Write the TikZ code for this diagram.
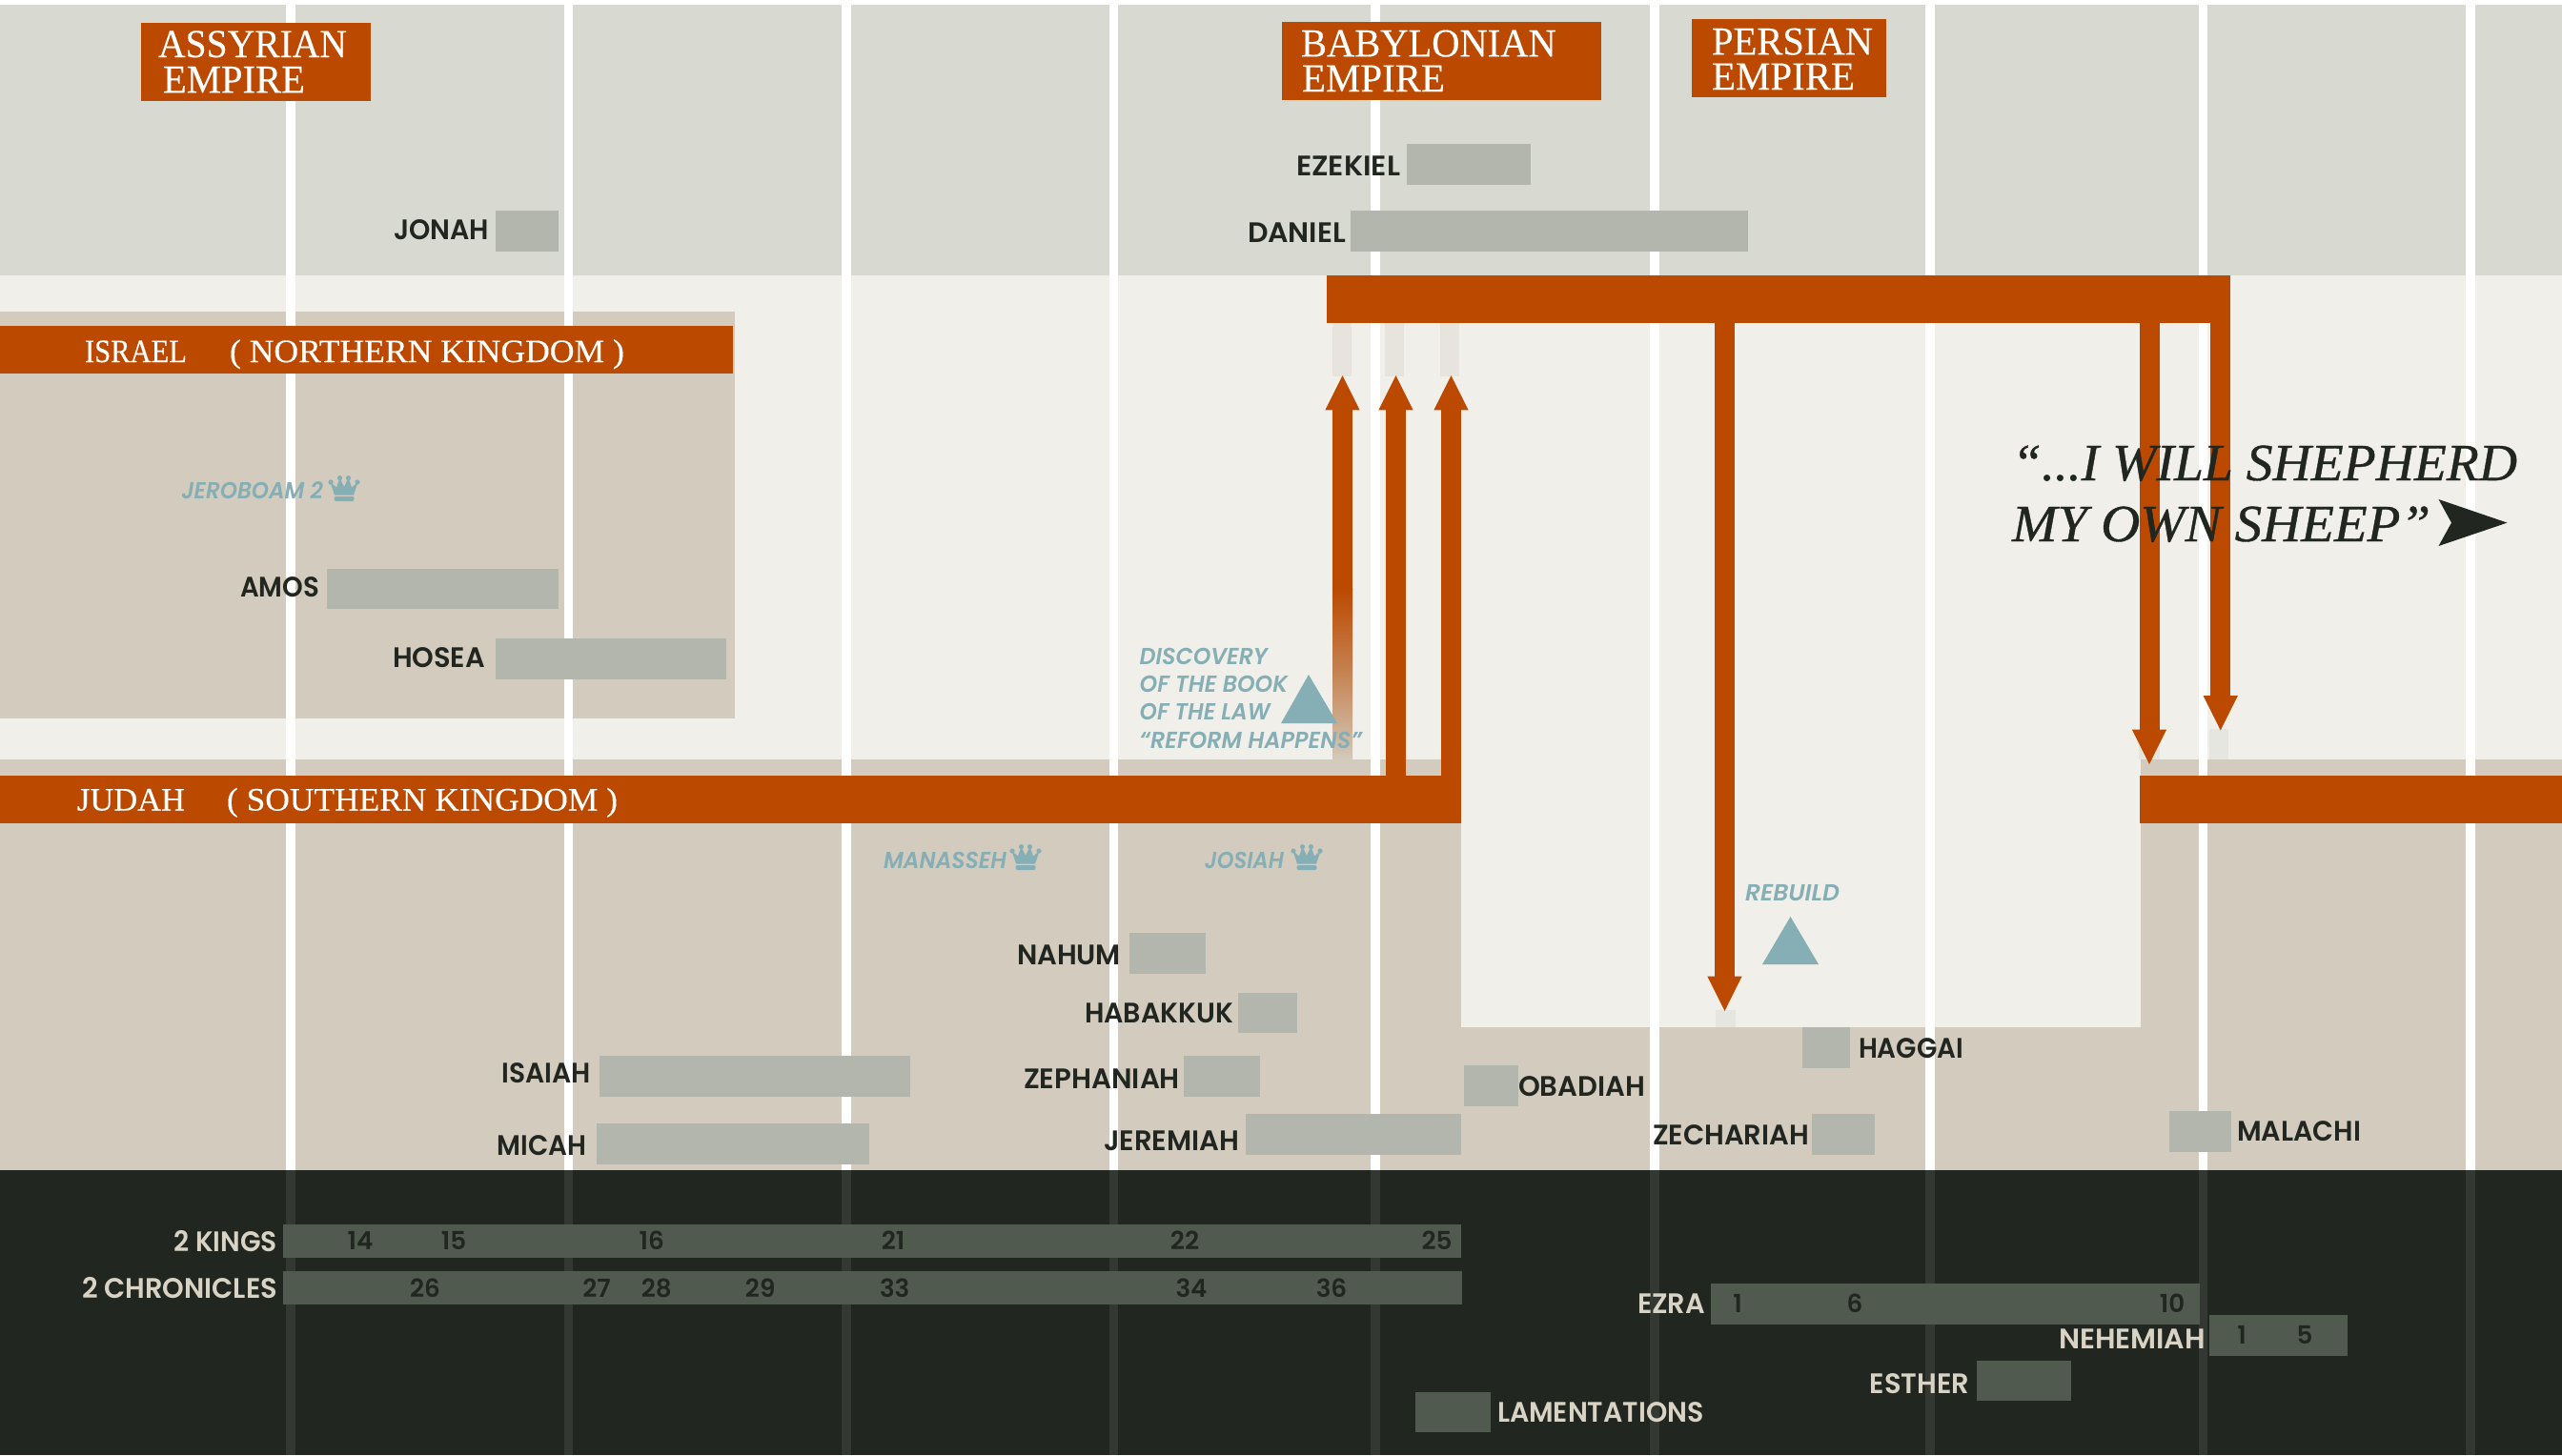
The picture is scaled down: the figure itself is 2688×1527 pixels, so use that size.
\documentclass[tikz,border=0pt]{standalone}
\usepackage{fontspec}
\usepackage{graphicx}
\usetikzlibrary{arrows.meta}
\setmainfont{Liberation Serif}
\newfontfamily\titlefont{Liberation Serif}[FakeBold=0.25]
\newfontfamily\quotefont{Liberation Serif}[FakeBold=0.7]
\newfontfamily\geofont{Poppins}[UprightFont=* SemiBold,ItalicFont=* SemiBold Italic,BoldFont=* SemiBold,BoldItalicFont=* SemiBold Italic]
\definecolor{rust}{HTML}{BB4900}
\definecolor{topband}{HTML}{D8D9D1}
\definecolor{midband}{HTML}{F0EFEA}
\definecolor{tan}{HTML}{D3CCBE}
\definecolor{ink}{HTML}{212720}
\definecolor{greybox}{HTML}{B3B6AC}
\definecolor{darkbox}{HTML}{515A4E}
\definecolor{darkline}{HTML}{343833}
\definecolor{pale}{HTML}{D8D3C4}
\definecolor{teal}{HTML}{85AEB5}
\definecolor{stubA}{HTML}{E6E4DD}
\definecolor{stubB}{HTML}{E6E6E1}
\newcommand\rct[5]{\fill[#5] (#1,#2) rectangle (#3,#4);}
\newcommand\lbl[6]{\node[#1,anchor=base west] (#2) at (#3,#4) {\resizebox{\dimexpr #5pt/2\relax}{\height}{#6}};}
\newcommand\num[4]{\node[numlab,anchor=base] (#1) at (#2,#3) {#4};}
\tikzset{
  lab/.style={inner sep=0,outer sep=0,text=ink,font=\geofont\fontsize{14.8}{17}\selectfont},
  labd/.style={lab,text=pale},
  numlab/.style={inner sep=0,outer sep=0,text=ink,font=\geofont\fontsize{13.1}{15}\selectfont},
  tealt/.style={inner sep=0,outer sep=0,text=teal,font=\geofont\itshape\fontsize{12.2}{14}\selectfont},
  bigt/.style={inner sep=0,outer sep=0,text=white,font=\titlefont\fontsize{20.9}{24}\selectfont},
  bart/.style={inner sep=0,outer sep=0,text=white,font=\titlefont\fontsize{17.1}{20}\selectfont},
  quotet/.style={inner sep=0,outer sep=0,text=ink,font=\quotefont\itshape\fontsize{27.5}{32}\selectfont},
  barbox/.style 2 args={fill=rust,inner sep=0,outer sep=0,anchor=north west,minimum width=#1*0.5pt,minimum height=#2*0.5pt},
  arrup/.style={draw=rust,line width=10.5pt,-{Triangle[length=18.7pt,width=16.6pt]}},
  crown/.pic={
    \fill[teal] (3,7) circle (2.6) (12.5,2.6) circle (2.6) (21.5,2.6) circle (2.6) (31,7) circle (2.6);
    \fill[teal] (2.5,7) -- (9,12.5) -- (12.5,2.5) -- (17,12) -- (21.5,2.5) -- (25,12.5) -- (31.5,7) -- (27,20.5) -- (7,20.5) -- cycle;
    \fill[teal,rounded corners=1pt] (6.5,22) rectangle (27.5,27);
  }
}
\begin{document}
\begin{tikzpicture}[x=0.5pt,y=-0.5pt]
\useasboundingbox (0,0) rectangle (2688,1527);
% bands
\rct{0}{0}{2688}{1527}{white}
\rct{0}{4.5}{2688}{289}{topband}
\rct{0}{289}{2688}{797}{midband}
\rct{0}{797}{2688}{1228}{tan}
\rct{1533}{797}{2246}{1078}{midband}
\rct{0}{327}{771}{754}{tan}
\rct{0}{1228}{2688}{1527}{ink}
% vertical year lines
\foreach \a/\b in {300/309.5,591.5/601,883/893,1163.5/1173,1438/1447.5,1731/1740.5,2020/2029.5,2306.5/2316,2587/2597}{
  \fill[white] (\a,4.5) rectangle (\b,1228);
  \fill[darkline] (\a,1228) rectangle (\b,1527);
}
% faded traces of the arrows
\rct{1398}{339}{1418}{395}{stubA}
\rct{1453}{339}{1473}{395}{stubA}
\rct{1511}{339}{1531}{395}{stubA}
\rct{1800}{1060}{1820.5}{1078}{stubB}
\rct{2244}{765}{2266}{797}{stubB}
\rct{2318}{765}{2338}{797}{stubB}
% prophet boxes
\rct{519.5}{221}{586}{264}{greybox}
\rct{1476}{151}{1606}{194}{greybox}
\rct{1417}{221}{1834}{264}{greybox}
\rct{343}{596.7}{585.6}{639.3}{greybox}
\rct{519.5}{670}{762}{712.7}{greybox}
\rct{1184.7}{979}{1264.7}{1021.7}{greybox}
\rct{1298.7}{1041.7}{1360.7}{1084.3}{greybox}
\rct{629.3}{1108}{954.7}{1151}{greybox}
\rct{1241.7}{1108.3}{1321.7}{1151}{greybox}
\rct{626}{1179}{912.3}{1222}{greybox}
\rct{1307}{1169}{1532.7}{1211.7}{greybox}
\rct{1536}{1118}{1593}{1161}{greybox}
\rct{1891}{1078}{1941}{1121}{greybox}
\rct{1900.5}{1169}{1966.5}{1212}{greybox}
\rct{2276}{1166}{2341}{1208.5}{greybox}
% history book boxes
\rct{297}{1285}{1533}{1320}{darkbox}
\rct{297}{1334}{1533.5}{1369}{darkbox}
\rct{1795}{1347}{2308}{1389.5}{darkbox}
\rct{2318}{1380}{2463}{1422.5}{darkbox}
\rct{2074}{1427.5}{2173}{1470}{darkbox}
\rct{1485}{1460.5}{1564}{1503}{darkbox}
% faded arrow shaft
\shade[top color=rust,bottom color=tan,middle color=rust!55!tan] (1398,617) rectangle (1419,800);
% bars
\node[barbox={769}{50}] (israelbar) at (0,342) {};
\node[barbox={1533}{50}] (judahbar) at (0,814) {};
\node[barbox={443}{50}] (judahbar2) at (2245,814) {};
\node[barbox={948}{50}] (exilebar) at (1392,289) {};
\node[barbox={241}{82}] (assyria) at (148,24) {};
\node[barbox={335}{82}] (babylon) at (1345,23) {};
\node[barbox={204}{82}] (persia) at (1774.5,20) {};
% arrow ends
\coordinate (u1) at (1408.5,393);
\coordinate (u1s) at (1408.5,617);
\coordinate (u2) at (1464.5,393);
\coordinate (u3) at (1522.5,393);
\coordinate (d1) at (1809.5,1062);
\coordinate (d2) at (2255,803);
\coordinate (d3) at (2329.7,767.5);
% connectors
\draw[arrup] (u1s) -- (u1);
\draw[arrup] (judahbar.north -| u2) -- (u2);
\draw[arrup] (judahbar.north -| u3) -- (u3);
\draw[arrup] (exilebar.south -| d1) -- (d1);
\draw[arrup] (exilebar.south -| d2) -- (d2);
\draw[arrup] (exilebar.south -| d3) -- (d3);
% triangles
\fill[teal] (1344,759) -- (1373,708) -- (1403,759) -- cycle;
\fill[teal] (1849,1012) -- (1878.5,962) -- (1908,1012) -- cycle;
% crowns
\pic at (344,499) {crown};
\pic at (1059,886) {crown};
\pic at (1354,886) {crown};
% empire titles
\lbl{bigt}{assyrianA}{166}{60}{198}{ASSYRIAN}
\lbl{bigt}{assyrianB}{171}{97.3}{149}{EMPIRE}
\lbl{bigt}{babylonA}{1365}{59.3}{267.7}{BABYLONIAN}
\lbl{bigt}{babylonB}{1366}{96}{150}{EMPIRE}
\lbl{bigt}{persianA}{1796}{57.3}{169}{PERSIAN}
\lbl{bigt}{persianB}{1796}{94}{150}{EMPIRE}
% kingdoms
\lbl{bart}{israelA}{89}{380}{107}{ISRAEL}
\lbl{bart}{israelB}{241}{380}{414}{( NORTHERN KINGDOM )}
\lbl{bart}{judahA}{81}{850.5}{113}{JUDAH}
\lbl{bart}{judahB}{238}{850.5}{410}{( SOUTHERN KINGDOM )}
% prophets
\lbl{lab}{jonah}{413}{251.7}{100}{JONAH}
\lbl{lab}{ezekiel}{1360}{184}{109}{EZEKIEL}
\lbl{lab}{daniel}{1309}{254}{103}{DANIEL}
\lbl{lab}{amos}{252}{626.7}{83}{AMOS}
\lbl{lab}{hosea}{412}{700}{97}{HOSEA}
\lbl{lab}{nahum}{1067}{1012.7}{109}{NAHUM}
\lbl{lab}{habakkuk}{1138}{1073}{156}{HABAKKUK}
\lbl{lab}{isaiah}{526.7}{1136}{93.3}{ISAIAH}
\lbl{lab}{zephaniah}{1074}{1142}{164}{ZEPHANIAH}
\lbl{lab}{micah}{521.7}{1212.7}{93.6}{MICAH}
\lbl{lab}{jeremiah}{1158}{1207.3}{142}{JEREMIAH}
\lbl{lab}{obadiah}{1593}{1150}{133}{OBADIAH}
\lbl{lab}{haggai}{1950}{1110}{110}{HAGGAI}
\lbl{lab}{zechariah}{1734}{1201.7}{164}{ZECHARIAH}
\lbl{lab}{malachi}{2347}{1197.3}{130}{MALACHI}
% books
\lbl{labd}{kings}{182.5}{1313.3}{108.5}{2 KINGS}
\lbl{labd}{chron}{86}{1362.3}{205}{2 CHRONICLES}
\lbl{labd}{ezra}{1718}{1378.8}{71}{EZRA}
\lbl{labd}{nehemiah}{2160}{1415.8}{154}{NEHEMIAH}
\lbl{labd}{esther}{1961.6}{1462.2}{104.4}{ESTHER}
\lbl{labd}{lament}{1571}{1492.8}{216.5}{LAMENTATIONS}
% chapters
\num{ka}{378}{1311.7}{14}
\num{kb}{476}{1311.7}{15}
\num{kc}{683.7}{1311.7}{16}
\num{kd}{937}{1311.7}{21}
\num{ke}{1243}{1311.7}{22}
\num{kf}{1507.5}{1311.7}{25}
\num{ca}{446}{1361.7}{26}
\num{cb}{626}{1361.7}{27}
\num{cc}{688.7}{1361.7}{28}
\num{cd}{797.7}{1361.7}{29}
\num{ce}{938.7}{1361.7}{33}
\num{cf}{1250}{1361.7}{34}
\num{cg}{1397}{1361.7}{36}
\num{ea}{1823}{1377}{1}
\num{eb}{1946}{1377}{6}
\num{ec}{2279}{1377}{10}
\num{na}{2352}{1410.8}{1}
\num{nb}{2418}{1410.8}{5}
% kings and events
\lbl{tealt}{jeroboam}{190.5}{523}{148.5}{JEROBOAM 2}
\lbl{tealt}{manasseh}{927}{911}{129}{MANASSEH}
\lbl{tealt}{josiah}{1264}{911}{83}{JOSIAH}
\lbl{tealt}{rebuild}{1831}{945}{99}{REBUILD}
\lbl{tealt}{discA}{1195.7}{697}{134.3}{DISCOVERY}
\lbl{tealt}{discB}{1195.7}{726}{155.3}{OF THE BOOK}
\lbl{tealt}{discC}{1195.7}{755.3}{137}{OF THE LAW}
\lbl{tealt}{discD}{1195.7}{785}{233}{“REFORM HAPPENS”}
% quotation
\lbl{quotet}{quoteA}{2111}{504}{530}{“...I WILL SHEPHERD}
\lbl{quotet}{quoteB}{2111}{568}{439}{MY OWN SHEEP”}
\fill[ink] (2558.5,524) -- (2630.5,548.6) -- (2558.5,573) -- (2572,548.6) -- cycle;
\end{tikzpicture}
\end{document}
